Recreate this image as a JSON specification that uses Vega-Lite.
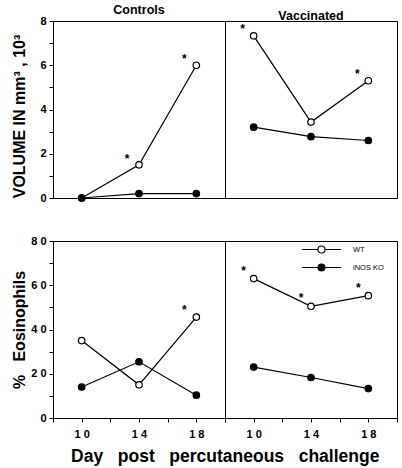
{
  "$schema": "https://vega.github.io/schema/vega-lite/v6.json",
  "padding": {"left": 10, "top": 3, "right": 3, "bottom": 2},
  "background": "white",
  "datasets": {
    "d": [
      {"panel": "A", "group": "Controls", "genotype": "WT", "day": 10, "value": 0, "sig": false},
      {"panel": "A", "group": "Controls", "genotype": "WT", "day": 14, "value": 1.5, "sig": true},
      {"panel": "A", "group": "Controls", "genotype": "WT", "day": 18, "value": 6.0, "sig": true},
      {"panel": "A", "group": "Controls", "genotype": "iNOS KO", "day": 10, "value": 0, "sig": false},
      {"panel": "A", "group": "Controls", "genotype": "iNOS KO", "day": 14, "value": 0.2, "sig": false},
      {"panel": "A", "group": "Controls", "genotype": "iNOS KO", "day": 18, "value": 0.2, "sig": false},
      {"panel": "A", "group": "Vaccinated", "genotype": "WT", "day": 10, "value": 7.33, "sig": true},
      {"panel": "A", "group": "Vaccinated", "genotype": "WT", "day": 14, "value": 3.43, "sig": false},
      {"panel": "A", "group": "Vaccinated", "genotype": "WT", "day": 18, "value": 5.3, "sig": true},
      {"panel": "A", "group": "Vaccinated", "genotype": "iNOS KO", "day": 10, "value": 3.2, "sig": false},
      {"panel": "A", "group": "Vaccinated", "genotype": "iNOS KO", "day": 14, "value": 2.77, "sig": false},
      {"panel": "A", "group": "Vaccinated", "genotype": "iNOS KO", "day": 18, "value": 2.6, "sig": false},
      {"panel": "B", "group": "Controls", "genotype": "WT", "day": 10, "value": 35, "sig": false},
      {"panel": "B", "group": "Controls", "genotype": "WT", "day": 14, "value": 15, "sig": false},
      {"panel": "B", "group": "Controls", "genotype": "WT", "day": 18, "value": 45.6, "sig": true},
      {"panel": "B", "group": "Controls", "genotype": "iNOS KO", "day": 10, "value": 14, "sig": false},
      {"panel": "B", "group": "Controls", "genotype": "iNOS KO", "day": 14, "value": 25.4, "sig": false},
      {"panel": "B", "group": "Controls", "genotype": "iNOS KO", "day": 18, "value": 10.3, "sig": false},
      {"panel": "B", "group": "Vaccinated", "genotype": "WT", "day": 10, "value": 63, "sig": true},
      {"panel": "B", "group": "Vaccinated", "genotype": "WT", "day": 14, "value": 50.5, "sig": true},
      {"panel": "B", "group": "Vaccinated", "genotype": "WT", "day": 18, "value": 55.3, "sig": true},
      {"panel": "B", "group": "Vaccinated", "genotype": "iNOS KO", "day": 10, "value": 23, "sig": false},
      {"panel": "B", "group": "Vaccinated", "genotype": "iNOS KO", "day": 14, "value": 18.3, "sig": false},
      {"panel": "B", "group": "Vaccinated", "genotype": "iNOS KO", "day": 18, "value": 13.3, "sig": false}
    ]
  },
  "config": {
    "font": "Liberation Sans",
    "view": {"stroke": "black", "strokeWidth": 1},
    "concat": {"spacing": 0},
    "axis": {
      "domainColor": "black", "tickColor": "black", "labelColor": "black", "titleColor": "black",
      "labelFont": "Liberation Sans", "titleFont": "Liberation Sans",
      "labelFontWeight": "bold", "labelFontSize": 11, "titleFontWeight": "bold", "titleFontSize": 16,
      "tickSize": 4, "grid": false, "domainWidth": 1, "tickWidth": 1
    },
    "title": {"font": "Liberation Sans", "fontWeight": "bold", "fontSize": 12.5, "color": "black"},
    "legend": {"labelFont": "Liberation Sans", "labelColor": "black"}
  },
  "resolve": {"legend": {"fill": "independent"}},
  "spacing": 29,
  "vconcat": [
    {
      "spacing": 0,
      "bounds": "flush",
      "resolve": {"legend": {"fill": "independent"}},
      "hconcat": [
        {
          "width": 172, "height": 177,
          "title": {"text": "Controls", "offset": -1},
          "encoding": {
            "x": {"field": "day", "type": "quantitative", "scale": {"domain": [8, 20]}, "axis": null},
            "y": {"field": "value", "type": "quantitative", "scale": {"domain": [0, 8]},
              "axis": {"values": [0, 1, 2, 3, 4, 5, 6, 7, 8], "labelExpr": "datum.value % 2 == 0 ? datum.label : ''",
                "title": "VOLUME IN mm³ , 10³", "titleY": 95, "labelPadding": 3, "minExtent": 22, "maxExtent": 22, "titlePadding": 4}}
          },
          "layer": [
            {"data": {"name": "d"}, "transform": [{"filter": "datum.panel == 'A' && datum.group == 'Controls'"}],
             "mark": {"type": "line", "color": "black", "strokeWidth": 1.2}, "encoding": {"detail": {"field": "genotype"}}},
            {"data": {"name": "d"}, "transform": [{"filter": "datum.panel == 'A' && datum.group == 'Controls'"}],
             "mark": {"type": "point", "filled": true, "stroke": "black", "strokeWidth": 1.2, "size": 42, "opacity": 1},
             "encoding": {"fill": {"field": "genotype", "type": "nominal", "scale": {"domain": ["WT", "iNOS KO"], "range": ["white", "black"]}, "legend": null}}},
            {"data": {"name": "d"}, "transform": [{"filter": "datum.panel == 'A' && datum.group == 'Controls' && datum.sig"}],
             "mark": {"type": "text", "text": "*", "dx": -12, "dy": -6, "fontSize": 12, "fontWeight": "bold", "color": "black"}},
            {"data": {"values": [{"label": "A"}]},
             "mark": {"type": "text", "fontSize": 17, "fontWeight": "bold", "align": "left", "baseline": "alphabetic", "color": "black"},
             "encoding": {"x": {"datum": 8.42, "type": "quantitative"}, "y": {"datum": 6.91, "type": "quantitative"}, "text": {"field": "label"}}}
          ]
        },
        {
          "width": 172, "height": 177,
          "title": {"text": "Vaccinated", "offset": -1},
          "encoding": {
            "x": {"field": "day", "type": "quantitative", "scale": {"domain": [8, 20]}, "axis": null},
            "y": {"field": "value", "type": "quantitative", "scale": {"domain": [0, 8]}, "axis": null}
          },
          "layer": [
            {"data": {"name": "d"}, "transform": [{"filter": "datum.panel == 'A' && datum.group == 'Vaccinated'"}],
             "mark": {"type": "line", "color": "black", "strokeWidth": 1.2}, "encoding": {"detail": {"field": "genotype"}}},
            {"data": {"name": "d"}, "transform": [{"filter": "datum.panel == 'A' && datum.group == 'Vaccinated'"}],
             "mark": {"type": "point", "filled": true, "stroke": "black", "strokeWidth": 1.2, "size": 42, "opacity": 1},
             "encoding": {"fill": {"field": "genotype", "type": "nominal", "scale": {"domain": ["WT", "iNOS KO"], "range": ["white", "black"]}, "legend": null}}},
            {"data": {"name": "d"}, "transform": [{"filter": "datum.panel == 'A' && datum.group == 'Vaccinated' && datum.sig"}],
             "mark": {"type": "text", "text": "*", "dx": -11, "dy": -7, "fontSize": 12, "fontWeight": "bold", "color": "black"}}
          ]
        }
      ]
    },
    {
      "spacing": 0,
      "bounds": "flush",
      "resolve": {"legend": {"fill": "independent"}},
      "title": {"text": "Day\u00a0\u00a0 post\u00a0\u00a0 percutaneous\u00a0\u00a0 challenge", "orient": "bottom", "anchor": "middle", "fontSize": 17.5, "offset": 8, "dx": 21},
      "hconcat": [
        {
          "width": 172, "height": 177,
          "encoding": {
            "x": {"field": "day", "type": "quantitative", "scale": {"domain": [8, 20]},
              "axis": {"values": [8, 10, 12, 14, 16, 18, 20], "labelExpr": "indexof([10, 14, 18], datum.value) >= 0 ? join(split(datum.label, ''), ' ') : ''", "title": null, "labelPadding": 6, "labelFlush": false}},
            "y": {"field": "value", "type": "quantitative", "scale": {"domain": [0, 80]},
              "axis": {"values": [0, 10, 20, 30, 40, 50, 60, 70, 80], "labelExpr": "datum.value % 20 == 0 ? join(split(datum.label, ''), ' ') : ''",
                "title": "%\u00a0\u00a0 Eosinophils", "labelPadding": 3, "minExtent": 22, "maxExtent": 22, "titlePadding": 4}}
          },
          "layer": [
            {"data": {"name": "d"}, "transform": [{"filter": "datum.panel == 'B' && datum.group == 'Controls'"}],
             "mark": {"type": "line", "color": "black", "strokeWidth": 1.2}, "encoding": {"detail": {"field": "genotype"}}},
            {"data": {"name": "d"}, "transform": [{"filter": "datum.panel == 'B' && datum.group == 'Controls'"}],
             "mark": {"type": "point", "filled": true, "stroke": "black", "strokeWidth": 1.2, "size": 42, "opacity": 1},
             "encoding": {"fill": {"field": "genotype", "type": "nominal", "scale": {"domain": ["WT", "iNOS KO"], "range": ["white", "black"]}, "legend": null}}},
            {"data": {"name": "d"}, "transform": [{"filter": "datum.panel == 'B' && datum.group == 'Controls' && datum.sig"}],
             "mark": {"type": "text", "text": "*", "dx": -12, "dy": -7, "fontSize": 12, "fontWeight": "bold", "color": "black"}},
            {"data": {"values": [{"label": "B"}]},
             "mark": {"type": "text", "fontSize": 17, "fontWeight": "bold", "align": "left", "baseline": "alphabetic", "color": "black"},
             "encoding": {"x": {"datum": 8.42, "type": "quantitative"}, "y": {"datum": 70.5, "type": "quantitative"}, "text": {"field": "label"}}}
          ]
        },
        {
          "width": 172, "height": 177,
          "encoding": {
            "x": {"field": "day", "type": "quantitative", "scale": {"domain": [8, 20]},
              "axis": {"values": [8, 10, 12, 14, 16, 18, 20], "labelExpr": "indexof([10, 14, 18], datum.value) >= 0 ? join(split(datum.label, ''), ' ') : ''", "title": null, "labelPadding": 6, "labelFlush": false}},
            "y": {"field": "value", "type": "quantitative", "scale": {"domain": [0, 80]}, "axis": null}
          },
          "layer": [
            {"data": {"name": "d"}, "transform": [{"filter": "datum.panel == 'B' && datum.group == 'Vaccinated'"}],
             "mark": {"type": "line", "color": "black", "strokeWidth": 1.2}, "encoding": {"detail": {"field": "genotype"}}},
            {"data": {"name": "d"}, "transform": [{"filter": "datum.panel == 'B' && datum.group == 'Vaccinated'"}],
             "mark": {"type": "point", "filled": true, "stroke": "black", "strokeWidth": 1.2, "size": 42, "opacity": 1},
             "encoding": {"fill": {"field": "genotype", "type": "nominal", "scale": {"domain": ["WT", "iNOS KO"], "range": ["white", "black"]},
               "legend": {"orient": "none", "legendX": 92, "legendY": 4, "title": null, "padding": 0,
                 "symbolType": "M-5.6,0H-1M1,0H5.6M-1,0A1,1 0 1,1 1,0A1,1 0 1,1 -1,0Z", "symbolSize": 49,
                 "symbolStrokeColor": "black", "symbolStrokeWidth": 1.1, "labelOffset": 27, "labelFontSize": 7.5,
                 "labelFontWeight": "normal", "rowPadding": 5}}}},
            {"data": {"name": "d"}, "transform": [{"filter": "datum.panel == 'B' && datum.group == 'Vaccinated' && datum.sig"}],
             "mark": {"type": "text", "text": "*", "dx": -10, "dy": -8, "fontSize": 12, "fontWeight": "bold", "color": "black"}}
          ]
        }
      ]
    }
  ]
}
